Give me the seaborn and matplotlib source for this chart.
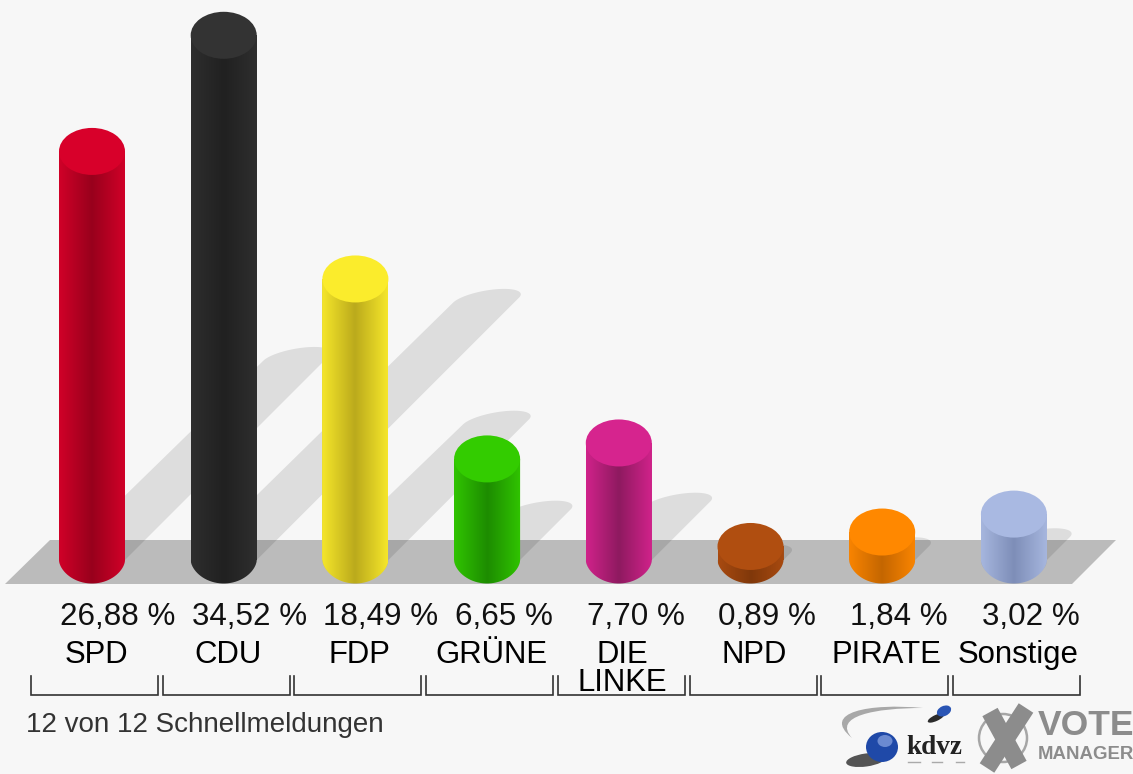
import numpy as np
import seaborn as sns
import matplotlib.pyplot as plt
from matplotlib.colors import to_rgb
from matplotlib.patches import Polygon, Ellipse, Circle, PathPatch
from matplotlib.path import Path
from matplotlib.transforms import Affine2D

parties = ['SPD', 'CDU', 'FDP', 'GRÜNE', 'DIE\nLINKE', 'NPD', 'PIRATE', 'Sonstige']
shares = [26.88, 34.52, 18.49, 6.65, 7.70, 0.89, 1.84, 3.02]
share_labels = ['26,88 %', '34,52 %', '18,49 %', '6,65 %', '7,70 %', '0,89 %', '1,84 %', '3,02 %']
top_colors = ['#d8002a', '#333333', '#fbec2c', '#33cc00', '#d6248e', '#b04e10', '#ff8800', '#a9b9e2']
edge_colors = ['#d00028', '#2e2e2e', '#f5e62a', '#30c400', '#d0228a', '#a84a10', '#f98400', '#a6b6de']
dark_colors = ['#98001c', '#212121', '#bbaa1c', '#1d8c00', '#8e1a60', '#80380a', '#c46600', '#7e8eb8']
footer = '12 von 12 Schnellmeldungen'

W, H = 1133, 774
BG = '#f7f7f7'
PX_PER_PCT = 15.2
BAR_STEP = 131.7
BAR_W = 66
BASE_Y = 560
ELL_H = 47

plt.rcParams['font.family'] = ['Liberation Sans', 'DejaVu Sans']

fig = plt.figure(figsize=(W / 100, H / 100), dpi=100, facecolor=BG)
ax = fig.add_axes([0, 0, 1, 1])
ax.set_facecolor(BG)

# pixel coordinates of the picture, y going down, for the decoration
pix = Affine2D().scale(1, -1).translate(0, H)

sns.barplot(x=parties, y=shares, hue=parties, palette=top_colors, width=BAR_W / BAR_STEP,
            legend=False, zorder=5, ax=ax)
ax.set_xlim(-92 / BAR_STEP, (W - 92) / BAR_STEP)
ax.set_ylim(-(H - BASE_Y) / PX_PER_PCT, BASE_Y / PX_PER_PCT)
ax.axis('off')
bars = sorted(ax.patches, key=lambda p: p.get_x())

# floor
ax.add_patch(Polygon([(50, 540), (1116, 540), (1072, 584), (5, 584)], closed=True,
                     fc='#bbbbbb', ec='none', transform=pix, zorder=1))

t = np.linspace(0, np.pi, 40)

for i, bar in enumerate(bars):
    # where the library put the bar, in picture pixels
    left, y0 = ax.transData.transform((bar.get_x(), 0))
    right, y1 = ax.transData.transform((bar.get_x() + bar.get_width(), bar.get_height()))
    base, top = H - y0, H - y1
    cx = (left + right) / 2
    r = (right - left) / 2

    # shadow falls up and to the right, half as long as the bar
    d = (base - top) / 2
    sx = cx + d
    sy = base - d
    arc = np.c_[sx + r * np.cos(t) + 11 * np.sin(t),
                sy - 11 * np.sin(t) + 5 * (1 - np.cos(t)) / 2]
    low = np.c_[cx - r * np.cos(t), base + 20 * np.sin(t)]
    ax.add_patch(Polygon(np.r_[arc, low], closed=True, fc='black', alpha=0.1, ec='none',
                         transform=pix, zorder=2))

    # cylinder body: dark in the middle, bright on the sides
    xs = np.linspace(0, 1, 120)
    edge = np.array(to_rgb(edge_colors[i]))
    dark = np.array(to_rgb(dark_colors[i]))
    amount = 1 - np.abs(xs - 0.5) * 2
    grad = edge + (dark - edge) * amount[:, None]
    ybottom = -(ELL_H / 2 + 1) / PX_PER_PCT
    im = ax.imshow(grad[None, :, :], aspect='auto', interpolation='bilinear', zorder=6,
                   extent=(bar.get_x(), bar.get_x() + bar.get_width(), ybottom, bar.get_height()))
    bottom_arc = np.c_[cx - r * np.cos(t), base + ELL_H / 2 * np.sin(t) ** 1.15]
    outline = np.r_[[(left, top)], bottom_arc, [(right, top)]]
    im.set_clip_path(Polygon(outline, closed=True, transform=pix))

    # flat lid
    ax.add_patch(Ellipse((cx, top), right - left, ELL_H, fc=top_colors[i], ec='none',
                         transform=pix, zorder=7))

    # value, name, bracket
    ax.text(left + 1, 625, share_labels[i], transform=pix, fontsize=22.6, color='#111111',
            ha='left', va='baseline', zorder=8)
    lines = parties[i].split('\n')
    ax.text(cx + 4, 663, lines[0], transform=pix, fontsize=22.4, color='#000000',
            ha='center', va='baseline', zorder=8)
    if len(lines) > 1:
        ax.text(cx + 4, 691, lines[1], transform=pix, fontsize=22.4, color='#000000',
                ha='center', va='baseline', zorder=8)
    ax.plot([cx - 61, cx - 61, cx + 66, cx + 66], [676, 695, 695, 676], color='#333333',
            lw=1.2, transform=pix, zorder=8, solid_joinstyle='miter')

ax.text(26, 732, footer, transform=pix, fontsize=20, color='#333333', ha='left', va='baseline')

# kdvz logo
swoosh = Path([(923, 708), (870, 703), (820, 712), (852, 738),
               (832, 716), (875, 708), (923, 708)],
              [Path.MOVETO, Path.CURVE4, Path.CURVE4, Path.CURVE4,
               Path.CURVE4, Path.CURVE4, Path.CURVE4])
ax.add_patch(PathPatch(swoosh, fc='#a8a8a8', ec='none', transform=pix))
ax.add_patch(Ellipse((866, 760), 40, 13, angle=-8, fc='#2b2b2b', ec='none', alpha=0.8, transform=pix))
ax.add_patch(Ellipse((882, 747), 32, 30, fc='#1f49a8', ec='none', transform=pix))
ax.add_patch(Ellipse((885, 741), 15, 12, fc='#7f9bdc', ec='none', alpha=0.8, transform=pix))
ax.add_patch(Ellipse((936, 718), 18, 6, angle=-25, fc='#2b2b2b', ec='none', transform=pix))
ax.add_patch(Ellipse((944, 711), 15, 10, angle=-25, fc='#2a55b5', ec='none', transform=pix))
ax.text(906, 754, 'kdvz', transform=pix, fontsize=19.5, family='Liberation Serif', weight='bold',
        color='#222222', ha='left', va='baseline')
for a, b in [(908, 920), (932, 942), (956, 964)]:
    ax.plot([a, b], [762, 762], color='#aaaaaa', lw=1, transform=pix)

# vote manager logo
ax.add_patch(Circle((1003, 738), 24, fc='none', ec='#a6a6a6', lw=1.8, transform=pix))
ax.plot([990, 1019], [712, 765], color='#8c8c8c', lw=12.5, transform=pix, solid_capstyle='butt')
ax.plot([1026, 987], [708, 768], color='#8c8c8c', lw=12.5, transform=pix, solid_capstyle='butt')
ax.text(1038, 735, 'VOTE', transform=pix, fontsize=25.5, weight='bold', color='#8c8c8c',
        ha='left', va='baseline')
ax.text(1038, 759, 'MANAGER', transform=pix, fontsize=13.4, weight='bold', color='#8c8c8c',
        ha='left', va='baseline')

fig.savefig('out.png', dpi=100, facecolor=BG)
